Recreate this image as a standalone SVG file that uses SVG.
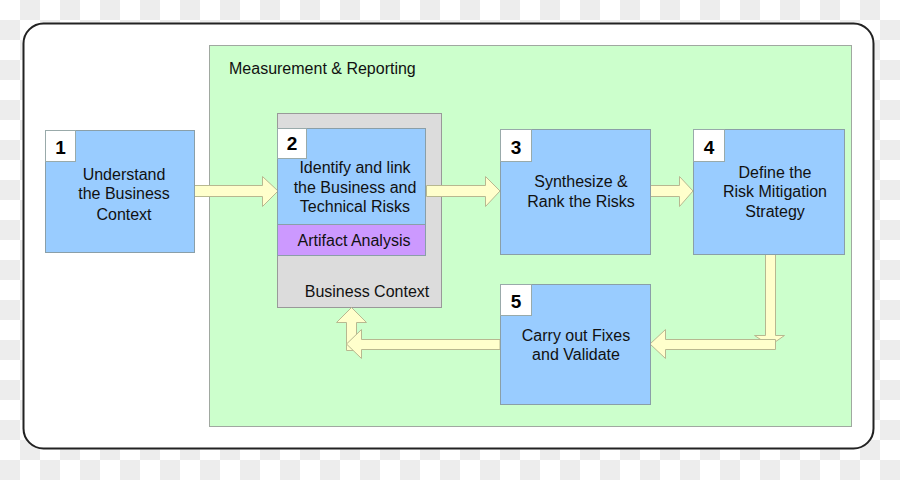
<svg xmlns="http://www.w3.org/2000/svg" width="900" height="480" viewBox="0 0 900 480">
<defs>
<pattern id="checker" x="0" y="0" width="40" height="40" patternUnits="userSpaceOnUse">
<rect width="40" height="40" fill="#ffffff"/>
<rect x="20" y="0" width="20" height="20" fill="#ededed"/>
<rect x="0" y="20" width="20" height="20" fill="#ededed"/>
</pattern>
<style>
.box{fill:#99ccff;stroke:#8a9fa8;stroke-width:1}
.num{fill:#ffffff;stroke:#9aa;stroke-width:1}
.numt{font-family:"Liberation Sans",Arial,sans-serif;font-weight:bold;font-size:19px;fill:#000;text-anchor:middle}
.t{font-family:"Liberation Sans",Arial,sans-serif;font-size:16px;fill:#111;text-anchor:middle}
.arrow{fill:#ffffcc;stroke:#b8b890;stroke-width:1}
</style>
</defs>
<rect width="900" height="480" fill="url(#checker)"/>
<rect x="23.5" y="23.5" width="850" height="425" rx="20" ry="20" fill="#ffffff" stroke="#222" stroke-width="2"/>
<rect x="209.5" y="45.5" width="642" height="381" fill="#ccffcc" stroke="#a0a8a0" stroke-width="1"/>
<text x="229" y="74" font-family="'Liberation Sans',Arial,sans-serif" font-size="16" fill="#111">Measurement &amp; Reporting</text>

<g id="business-context">
<rect x="277.5" y="113.5" width="164" height="194" fill="#dcdcdc" stroke="#999" stroke-width="1"/>
<text x="367" y="297" class="t">Business Context</text>
</g>

<g id="connectors">
<path class="arrow" d="M194.5,185.5 H262.5 V176.5 L278,191 L262.5,206.5 V196.5 H194.5 Z"/>
<path class="arrow" d="M426.5,185.5 H485.5 V176.5 L500,191 L485.5,206.5 V196.5 H426.5 Z"/>
<path class="arrow" d="M650.5,185.5 H679.5 V176.5 L693,191 L679.5,206.5 V196.5 H650.5 Z"/>
<path class="arrow" d="M765.5,254.5 V335.5 H754.5 L770,345.5 L784.5,335.5 H775.5 V254.5 Z"/>
<path class="arrow" d="M775.5,339.5 H665.5 V329.5 L650,344 L665.5,358.5 V349.5 H775.5 Z"/>
<path class="arrow" d="M346.5,322.5 H336.5 L351.5,307.5 L366.5,322.5 H356.5 V350.5 H346.5 Z"/>
<path class="arrow" d="M500,339.5 H361.5 V329.5 L346.5,344 L361.5,358.5 V349.5 H500 Z"/>
</g>

<g id="step1">
<rect class="box" x="45.5" y="130.5" width="149" height="122"/>
<rect class="num" x="45.5" y="130.5" width="30" height="31"/>
<text x="60.5" y="154" class="numt">1</text>
<text x="124" y="180" class="t">Understand</text>
<text x="124" y="199" class="t">the Business</text>
<text x="124" y="220" class="t">Context</text>
</g>

<g id="step2">
<rect class="box" x="277.5" y="128.5" width="148" height="96"/>
<rect x="277.5" y="224.5" width="148" height="31" fill="#cc99ff" stroke="#8a9fa8" stroke-width="1"/>
<rect class="num" x="277.5" y="128.5" width="29" height="30"/>
<text x="292" y="150" class="numt">2</text>
<text x="355" y="173" class="t">Identify and link</text>
<text x="355" y="193" class="t">the Business and</text>
<text x="355" y="212" class="t">Technical Risks</text>
<text x="354" y="246" class="t">Artifact Analysis</text>
</g>

<g id="step3">
<rect class="box" x="500.5" y="129.5" width="150" height="125"/>
<rect class="num" x="500.5" y="129.5" width="31" height="32"/>
<text x="516" y="154" class="numt">3</text>
<text x="581" y="187" class="t">Synthesize &amp;</text>
<text x="581" y="207" class="t">Rank the Risks</text>
</g>

<g id="step4">
<rect class="box" x="693.5" y="129.5" width="151" height="125"/>
<rect class="num" x="693.5" y="129.5" width="31" height="32"/>
<text x="709" y="154" class="numt">4</text>
<text x="775" y="178" class="t">Define the</text>
<text x="775" y="197" class="t">Risk Mitigation</text>
<text x="775" y="217" class="t">Strategy</text>
</g>

<g id="step5">
<rect class="box" x="500.5" y="284.5" width="150" height="120"/>
<rect class="num" x="500.5" y="284.5" width="31" height="31"/>
<text x="516" y="308" class="numt">5</text>
<text x="576" y="341" class="t">Carry out Fixes</text>
<text x="576" y="360" class="t">and Validate</text>
</g>
</svg>
